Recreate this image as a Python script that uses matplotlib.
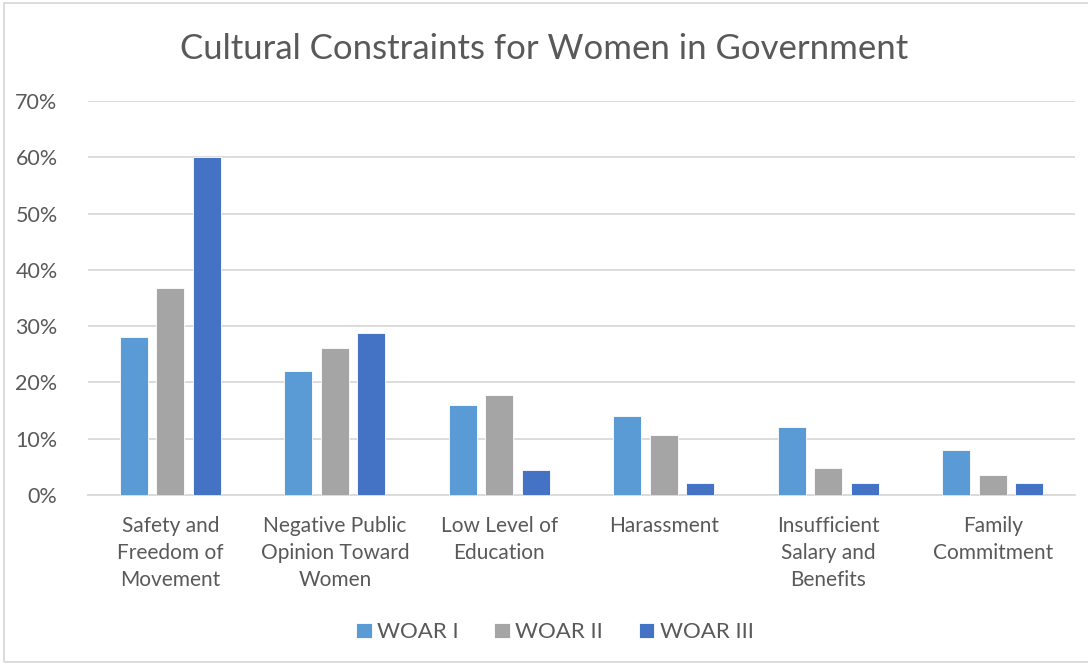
import matplotlib
matplotlib.use('Agg')
import matplotlib.pyplot as plt
import numpy as np

plt.rcParams['font.family'] = ['Lato', 'DejaVu Sans']

categories = ['Safety and\nFreedom of\nMovement', 'Negative Public\nOpinion Toward\nWomen',
              'Low Level of\nEducation', 'Harassment', 'Insufficient\nSalary and\nBenefits',
              'Family\nCommitment']
woar1 = [28, 22, 16, 14, 12, 8]
woar2 = [36.8, 26.1, 17.8, 10.7, 4.8, 3.6]
woar3 = [60, 28.8, 4.4, 2.1, 2.1, 2.1]
series = ['WOAR I', 'WOAR II', 'WOAR III']
colors = ['#5B9BD5', '#A5A5A5', '#4472C4']
txt = '#595959'

fig = plt.figure(figsize=(10.88, 6.65), dpi=100)
ax = fig.add_axes([0.081, 0.256, 0.907, 0.592])

x = np.arange(len(categories))
w = 0.17
off = 0.222
for i, (vals, lab, c) in enumerate(zip([woar1, woar2, woar3], series, colors)):
    ax.bar(x + (i - 1) * off, vals, w, color=c, label=lab, edgecolor='white', linewidth=0.6, zorder=3)

ax.set_xlim(-0.5, len(categories) - 0.5)
ax.set_ylim(0, 70)
ax.set_yticks(np.arange(0, 71, 10))
ax.set_yticklabels([f'{v}%' for v in range(0, 71, 10)], fontsize=15.5, color=txt)
ax.yaxis.grid(True, color='#D9D9D9', linewidth=1.3, zorder=0)
ax.set_xticks(x)
ax.set_xticklabels(categories, fontsize=15, color=txt, linespacing=1.45)
ax.tick_params(axis='both', length=0)
ax.tick_params(axis='x', pad=15)
ax.tick_params(axis='y', pad=22)
for s in ['top', 'right', 'left']:
    ax.spines[s].set_visible(False)
ax.spines['bottom'].set_color('#D9D9D9')
ax.spines['bottom'].set_linewidth(1.3)

fig.text(0.5, 0.927, 'Cultural Constraints for Women in Government', ha='center', va='center',
         fontsize=25, color=txt)
fig.legend(loc='center', bbox_to_anchor=(0.51, 0.049), ncol=3, frameon=False, fontsize=16,
           labelcolor=txt, handlelength=0.7, handleheight=0.7, handletextpad=0.25, columnspacing=1.6)

border = plt.Rectangle((0.004, 0.005), 1.2, 0.99, transform=fig.transFigure, fill=False,
                       edgecolor='#D9D9D9', linewidth=1.3)
fig.patches.append(border)

fig.savefig('out.png', dpi=100)
